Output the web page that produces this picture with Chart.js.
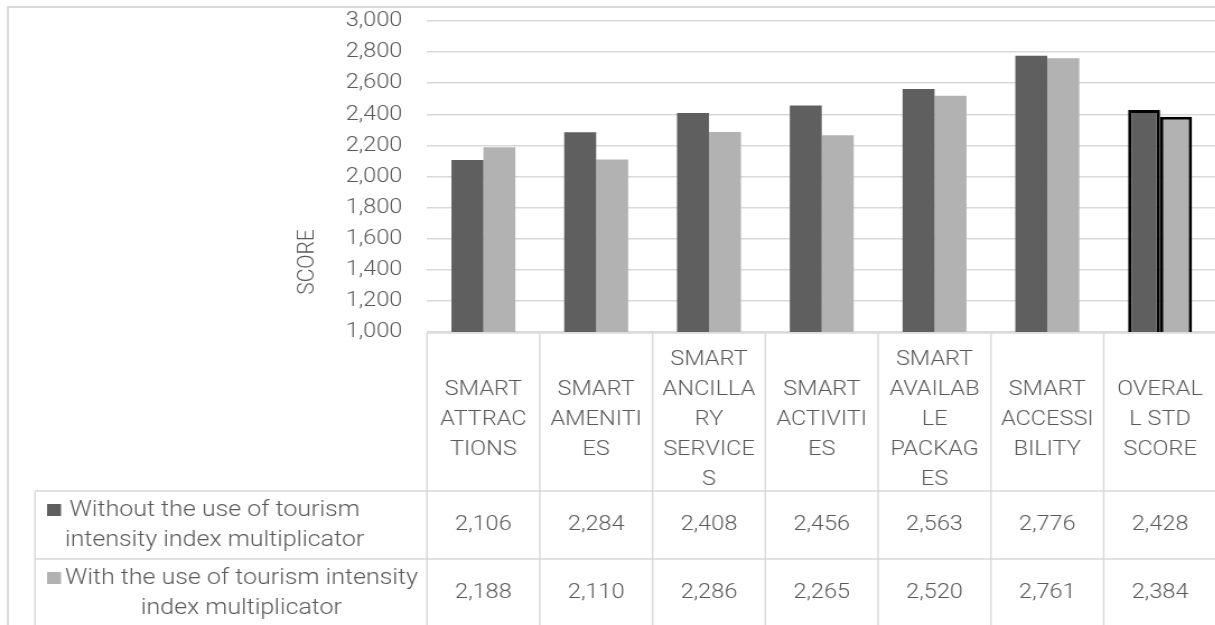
<!DOCTYPE html>
<html>
<head>
<meta charset="utf-8">
<script src="https://cdn.jsdelivr.net/npm/chart.js@4.4.1/dist/chart.umd.min.js"></script>
<style>
  html, body { margin: 0; padding: 0; background: #fff; overflow: hidden; }
  /* the chart is laid out narrow and widened horizontally */
  #wrap { position: absolute; left: 0; top: 0; width: 1094px; height: 625px;
          transform: scaleX(1.12); transform-origin: 0 0; }
</style>
</head>
<body>
<div id="wrap"><canvas id="c"></canvas></div>
<script>
// Category headers, wrapped the way they sit in the table header cells
const categories = [
  ['SMART', 'ATTRAC', 'TIONS'],
  ['SMART', 'AMENITI', 'ES'],
  ['SMART', 'ANCILLA', 'RY', 'SERVICE', 'S'],
  ['SMART', 'ACTIVITI', 'ES'],
  ['SMART', 'AVAILAB', 'LE', 'PACKAG', 'ES'],
  ['SMART', 'ACCESSI', 'BILITY'],
  ['OVERAL', 'L STD', 'SCORE']
];
const withoutMultiplier = [2106, 2284, 2408, 2456, 2563, 2776, 2428];
const withMultiplier    = [2188, 2110, 2286, 2265, 2520, 2761, 2384];
const seriesNames = [
  'Without the use of tourism intensity index multiplicator',
  'With the use of tourism intensity index multiplicator'
];
const seriesLabelLines = [
  ['Without the use of tourism', 'intensity index multiplicator'],
  ['With the use of tourism intensity', 'index multiplicator']
];
const yMin = 1000, yMax = 3000, yStep = 200;
const axisTitle = 'SCORE';

const DARK = '#5f5f5f', LIGHT = '#b2b2b2', TEXT = '#595959', RULE = '#d9d9d9';
const FONT_FAMILY = 'Roboto, "Open Sans", sans-serif';
const FONT_SIZE = 21;
const LEGEND_FONT_SIZE = 22.3;
const ROW_H = 68;
const numberFmt = new Intl.NumberFormat('en-US');

// the overall column is outlined in black
const edgeColors = categories.map((_, i) => i === categories.length - 1 ? '#000' : 'rgba(0,0,0,0)');
const edgeWidths = categories.map((_, i) => i === categories.length - 1 ? 3 : 0);

// Data table, frame and axis title drawn below/around the plot
const tablePlugin = {
  id: 'dataTable',
  afterDraw(chart) {
    const { ctx, chartArea, scales: { x } } = chart;
    const n = categories.length;
    const step = x.getPixelForValue(1) - x.getPixelForValue(0);
    const edges = [];
    for (let i = 0; i <= n; i++) edges.push(x.getPixelForValue(0) - step / 2 + i * step);
    const headTop = chartArea.bottom + 1;
    const rowTops = [x.bottom, x.bottom + ROW_H];
    const legendLeft = 31.25;
    const right = chart.width + 5;
    const bottom = chart.height + 5;

    ctx.save();
    // outer frame
    ctx.strokeStyle = RULE;
    ctx.lineWidth = 2;
    ctx.beginPath();
    ctx.moveTo(7.1, bottom); ctx.lineTo(7.1, 7); ctx.lineTo(right, 7);
    ctx.stroke();

    // table rules
    ctx.lineWidth = 1.5;
    ctx.beginPath();
    ctx.moveTo(edges[0], headTop); ctx.lineTo(right, headTop);
    rowTops.forEach(t => { ctx.moveTo(legendLeft, t); ctx.lineTo(right, t); });
    ctx.moveTo(legendLeft, rowTops[0]); ctx.lineTo(legendLeft, bottom);
    edges.forEach(e => { ctx.moveTo(e, headTop); ctx.lineTo(e, bottom); });
    ctx.stroke();

    ctx.fillStyle = TEXT;
    ctx.textBaseline = 'middle';

    // values
    ctx.font = `300 ${FONT_SIZE}px ${FONT_FAMILY}`;
    const series = [withoutMultiplier, withMultiplier];
    series.forEach((vals, r) => {
      const mid = rowTops[r] + ROW_H / 2;
      ctx.textAlign = 'center';
      vals.forEach((v, i) => {
        ctx.fillText(numberFmt.format(v), x.getPixelForValue(i), mid);
      });
    });

    // legend keys with series names
    ctx.font = `300 ${LEGEND_FONT_SIZE}px ${FONT_FAMILY}`;
    const keyColors = [DARK, LIGHT];
    seriesLabelLines.forEach((lines, r) => {
      const mid = rowTops[r] + ROW_H / 2;
      const lineY = [mid - 15, mid + 15];
      ctx.fillStyle = keyColors[r];
      ctx.fillRect(42, lineY[0] - 6, 12.5, 12);
      ctx.fillStyle = TEXT;
      const blockW = Math.max(...lines.map(l => ctx.measureText(l).width));
      const cx = 58 + blockW / 2;
      ctx.textAlign = 'center';
      lines.forEach((l, k) => ctx.fillText(l, cx, lineY[k]));
    });

    // vertical axis title
    ctx.font = `300 ${FONT_SIZE}px ${FONT_FAMILY}`;
    ctx.translate(275, 262);
    ctx.rotate(-Math.PI / 2);
    ctx.textAlign = 'center';
    ctx.fillText(axisTitle, 0, 0);
    ctx.restore();
  }
};

new Chart(document.getElementById('c'), {
  type: 'bar',
  data: {
    labels: categories,
    datasets: [
      { label: seriesNames[0], data: withoutMultiplier, backgroundColor: DARK,
        borderColor: edgeColors, borderWidth: edgeWidths, borderSkipped: false },
      { label: seriesNames[1], data: withMultiplier, backgroundColor: LIGHT,
        borderColor: edgeColors, borderWidth: edgeWidths, borderSkipped: false }
    ]
  },
  options: {
    responsive: true,
    maintainAspectRatio: false,
    animation: false,
    devicePixelRatio: 1,
    layout: { padding: { top: 21, left: 0, right: 0, bottom: 134 } },
    datasets: { bar: { categoryPercentage: 0.567, barPercentage: 1.0 } },
    plugins: { legend: { display: false }, tooltip: { enabled: false } },
    scales: {
      x: {
        grid: { display: false },
        border: { display: false },
        ticks: {
          autoSkip: false, maxRotation: 0, minRotation: 0,
          crossAlign: 'center', padding: 20, color: TEXT,
          font: { family: FONT_FAMILY, size: FONT_SIZE, weight: '300', lineHeight: 30 / FONT_SIZE }
        },
        afterFit(scale) { scale.height = 159; }
      },
      y: {
        min: yMin, max: yMax,
        grid: { color: RULE, lineWidth: 1.5, drawTicks: false },
        border: { display: false },
        ticks: {
          stepSize: yStep, padding: 22, color: TEXT,
          font: { family: FONT_FAMILY, size: FONT_SIZE, weight: '300' },
          callback: v => numberFmt.format(v)
        },
        afterFit(scale) {
          scale.width = 381.25;
          scale.paddingTop = 0;
          scale.paddingBottom = 0;
        }
      }
    }
  },
  plugins: [tablePlugin]
});
</script>
</body>
</html>
